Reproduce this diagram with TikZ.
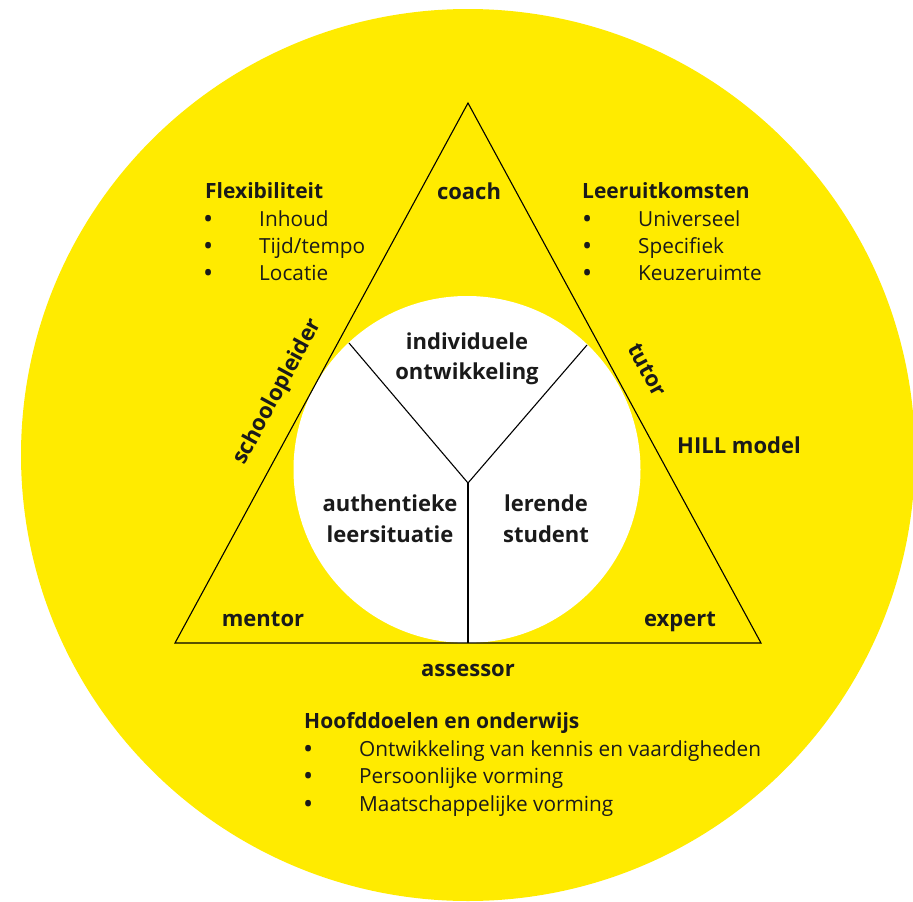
\documentclass[tikz,border=0pt]{standalone}
\usepackage{fontspec}
\setmainfont{Open Sans}
\definecolor{hillyellow}{RGB}{255,235,0}
\definecolor{ink}{RGB}{26,26,26}
\tikzset{
  lbl/.style={font=\fontsize{22}{26}\selectfont\bfseries, text=ink, inner sep=0pt},
  itm/.style={font=\fontsize{20.8}{24}\selectfont, text=ink, inner sep=0pt, anchor=base west},
  bul/.style={font=\fontsize{27}{30}\selectfont, text=ink, inner sep=0pt, anchor=base west},
  hdr/.style={font=\fontsize{21}{24}\selectfont\bfseries, text=ink, inner sep=0pt, anchor=base west},
  edge/.style={draw=black, line width=1.1pt, line join=miter},
}
\begin{document}
\begin{tikzpicture}[x=1pt,y=-1pt]
\clip (0,0) rectangle (913,902);
% big yellow disc and white inner disc
\fill[hillyellow] (468,455) ellipse [x radius=447, y radius=446];
\fill[white] (467,469.5) circle [radius=173.5];
% triangle corners
\coordinate (A) at (468,103);
\coordinate (B) at (175,643);
\coordinate (C) at (761,643);
\draw[edge] (A) -- (B) -- (C) -- cycle;
% Y dividers
\coordinate (J) at (468,483);
\coordinate (P1) at (349,343);
\coordinate (P2) at (587,345);
\coordinate (P3) at (468,643);
\draw[edge] (J) -- (P1);
\draw[edge] (J) -- (P2);
\draw[edge] (J) -- (P3);
% corner / side labels
\node[lbl, anchor=base] (coach) at (469,199) {coach};
\node[lbl, anchor=base] (mentor) at (263,626) {mentor};
\node[lbl, anchor=base] (expert) at (680,626) {expert};
\node[lbl, anchor=base] (assessor) at (468,676) {assessor};
\node[lbl, rotate=61.5] (school) at (278,392) {schoolopleider};
\node[lbl, rotate=-61.5] (tutor) at (647,370) {tutor};
\node[lbl, anchor=base] (hill) at (739,453) {HILL model};
% inner labels
\node[lbl, anchor=base] (ind1) at (467,349) {individuele};
\node[lbl, anchor=base] (ind2) at (467,379) {ontwikkeling};
\node[lbl, anchor=base] (aut1) at (390,511) {authentieke};
\node[lbl, anchor=base] (aut2) at (390,542) {leersituatie};
\node[lbl, anchor=base] (ler1) at (546,511) {lerende};
\node[lbl, anchor=base] (ler2) at (546,542) {student};
% Flexibiliteit list
\node[hdr] (flex) at (205,198) {Flexibiliteit};
\node[bul] (fb1) at (203,228.5) {•};
\node[itm] (f1) at (259,226.5) {Inhoud};
\node[bul] (fb2) at (203,255) {•};
\node[itm] (f2) at (259,253) {Tijd/tempo};
\node[bul] (fb3) at (203,282) {•};
\node[itm] (f3) at (259,280) {Locatie};
% Leeruitkomsten list
\node[hdr] (leer) at (582,198) {Leeruitkomsten};
\node[bul] (lb1) at (582,228.5) {•};
\node[itm] (l1) at (638,226.5) {Universeel};
\node[bul] (lb2) at (582,255) {•};
\node[itm] (l2) at (638,253) {Specifiek};
\node[bul] (lb3) at (582,282) {•};
\node[itm] (l3) at (638,280) {Keuzeruimte};
% Hoofddoelen list
\node[hdr] (hoofd) at (304,728) {Hoofddoelen en onderwijs};
\node[bul] (hb1) at (303,758.5) {•};
\node[itm] (h1) at (359,756.5) {Ontwikkeling van kennis en vaardigheden};
\node[bul] (hb2) at (303,785.5) {•};
\node[itm] (h2) at (359,783.5) {Persoonlijke vorming};
\node[bul] (hb3) at (303,813) {•};
\node[itm] (h3) at (359,811) {Maatschappelijke vorming};
\end{tikzpicture}
\end{document}
